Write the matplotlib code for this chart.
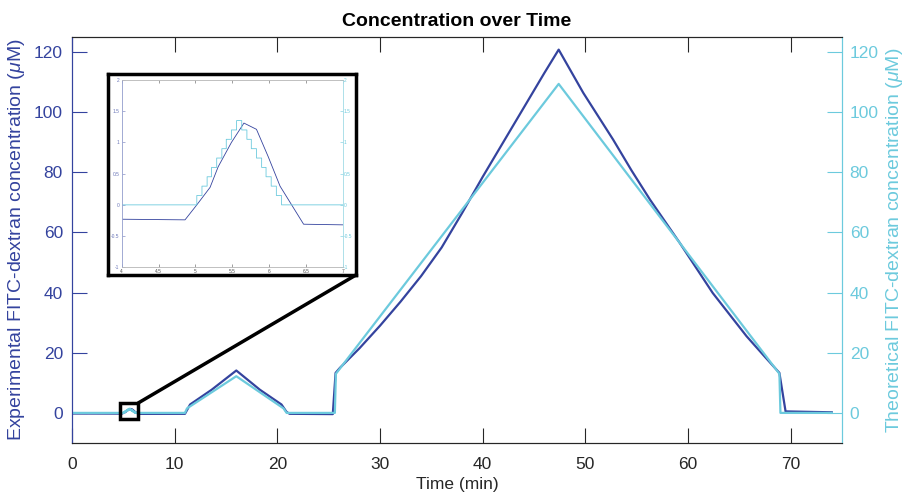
import matplotlib.pyplot as plt
from matplotlib.patches import Rectangle, ConnectionPatch

plt.rcParams['font.family'] = ['Liberation Sans', 'DejaVu Sans']
plt.rcParams['mathtext.fontset'] = 'custom'
plt.rcParams['mathtext.it'] = 'Liberation Sans:italic'
plt.rcParams['mathtext.rm'] = 'Liberation Sans'

# experimental concentration (uM) vs time (min)
exp_t = [0, 4.0, 4.86, 5.02, 5.2, 5.31, 5.49, 5.66, 5.83, 5.99, 6.15, 6.47, 7.0,
         11.0, 11.5, 13.6, 16.0, 18.3, 20.4, 20.9, 21.2, 25.4, 25.67, 26.1,
         28.0, 30.0, 32.0, 34.0, 36.0, 38.0, 40.0, 42.0, 44.0, 46.0, 47.4,
         49.8, 52.7, 54.5, 56.3, 59.2, 62.4, 65.7, 67.5, 68.9, 69.5, 74.0]
exp_c = [-0.2, -0.23, -0.24, 0.0, 0.28, 0.61, 1.0, 1.31, 1.21, 0.77, 0.30, -0.31, -0.32,
         -0.3, 2.8, 7.7, 14.1, 7.7, 2.8, 0.3, -0.3, -0.4, 13.3, 15.0,
         21.5, 29.0, 37.0, 45.5, 55.0, 66.5, 78.5, 90.0, 101.5, 113.0, 120.8,
         106.4, 90.9, 80.6, 70.9, 56.5, 39.9, 25.5, 18.6, 13.3, 0.5, 0.2]

# theoretical concentration: staircase around 5-6 min, then ramps
stair_t = [5.02, 5.09, 5.16, 5.22, 5.29, 5.36, 5.42, 5.49, 5.56, 5.63, 5.70,
           5.76, 5.83, 5.90, 5.96, 6.03, 6.10, 6.17]
stair_c = [0.15, 0.30, 0.45, 0.60, 0.75, 0.90, 1.05, 1.20, 1.35, 1.20, 1.05,
           0.90, 0.75, 0.60, 0.45, 0.30, 0.15, 0.0]
ramp_t = [11.0, 11.2, 16.0, 20.6, 20.9, 25.6, 25.7, 47.4, 68.9, 69.0, 74.0]
ramp_c = [0.0, 1.5, 12.2, 1.5, 0.0, 0.0, 13.0, 109.4, 13.0, 0.0, 0.0]

theory_t = [0]
theory_c = [0]
prev = 0
for t, c in zip(stair_t, stair_c):
    theory_t += [t, t]
    theory_c += [prev, c]
    prev = c
theory_t += ramp_t
theory_c += ramp_c

dark = '#34439E'
cyan = '#6CCADD'
grey = '#262626'

fig = plt.figure(figsize=(9.06, 4.96), dpi=100)
ax = fig.add_axes([0.0795, 0.1069, 0.8499, 0.8185])
ax2 = ax.twinx()

ax.plot(exp_t, exp_c, color=dark, lw=1.6)
ax2.plot(theory_t, theory_c, color=cyan, lw=1.6)

for a in (ax, ax2):
    a.set_xlim(0, 75)
    a.set_ylim(-10, 125)
    a.set_yticks(range(0, 121, 20))
    for s in ('top', 'bottom'):
        a.spines[s].set_color(grey)
        a.spines[s].set_linewidth(0.8)
    a.spines['left'].set_color(dark)
    a.spines['right'].set_color(cyan)
ax.set_xticks(range(0, 71, 10))
ax.tick_params(axis='x', direction='in', length=10.5, width=0.8, top=True,
               colors=grey, labelsize=12.5, pad=10)
ax.tick_params(axis='y', direction='in', length=10.5, width=0.8,
               colors=dark, labelsize=12.5, pad=6.5)
ax2.tick_params(axis='y', direction='in', length=10.5, width=0.8,
                colors=cyan, labelsize=12.5, pad=5.5)

ax.set_title('Concentration over Time', fontsize=14, fontweight='bold', pad=8)
ax.set_xlabel('Time (min)', fontsize=12.5, color=grey, labelpad=4)
ax.set_ylabel(r'Experimental FITC-dextran concentration ($\mu$M)', fontsize=14,
              color=dark, labelpad=5)
ax2.set_ylabel(r'Theoretical FITC-dextran concentration ($\mu$M)', fontsize=14,
               color=cyan, labelpad=4)

# zoom box on main plot
box = Rectangle((4.7, -1.9), 1.75, 5.2, fill=False, ec='black', lw=2.5, zorder=6)
ax2.add_patch(box)

# inset frame
frame = fig.add_axes([0.1192, 0.4456, 0.2737, 0.4052])
frame.set_xticks([])
frame.set_yticks([])
for s in frame.spines.values():
    s.set_linewidth(2.5)
    s.set_color('black')

ins = fig.add_axes([0.1343, 0.4611, 0.2439, 0.3776])
ins2 = ins.twinx()
ins.plot(exp_t, exp_c, color=dark, lw=0.6)
ins2.plot(theory_t, theory_c, color=cyan, lw=0.6)
for a in (ins, ins2):
    a.set_xlim(4, 7)
    a.set_ylim(-1, 2)
    a.set_yticks([-1, -0.5, 0, 0.5, 1, 1.5, 2])
    a.set_yticklabels(['-1', '-0.5', '0', '0.5', '1', '1.5', '2'])
    for s in ('top', 'bottom'):
        a.spines[s].set_color('#bbbbbb')
        a.spines[s].set_linewidth(0.5)
    a.spines['left'].set_color('#9aa4d0')
    a.spines['right'].set_color('#a8dde8')
    a.spines['left'].set_linewidth(0.5)
    a.spines['right'].set_linewidth(0.5)
ins.set_xticks([4, 4.5, 5, 5.5, 6, 6.5, 7])
ins.set_xticklabels(['4', '4.5', '5', '5.5', '6', '6.5', '7'])
ins.tick_params(axis='x', direction='in', length=2.5, width=0.4, top=True,
                colors='#555555', labelsize=3.5, pad=1)
ins.tick_params(axis='y', direction='in', length=2.5, width=0.4,
                colors='#6a76b8', labelsize=3.5, pad=1.5)
ins2.tick_params(axis='y', direction='in', length=2.5, width=0.4,
                 colors=cyan, labelsize=3.5, pad=1)

con = ConnectionPatch(xyA=(4.7 + 1.75, 3.3), coordsA=ax2.transData,
                      xyB=(1, 0), coordsB=frame.transAxes,
                      color='black', lw=2.5)
fig.add_artist(con)

fig.savefig('out.png', dpi=100)
